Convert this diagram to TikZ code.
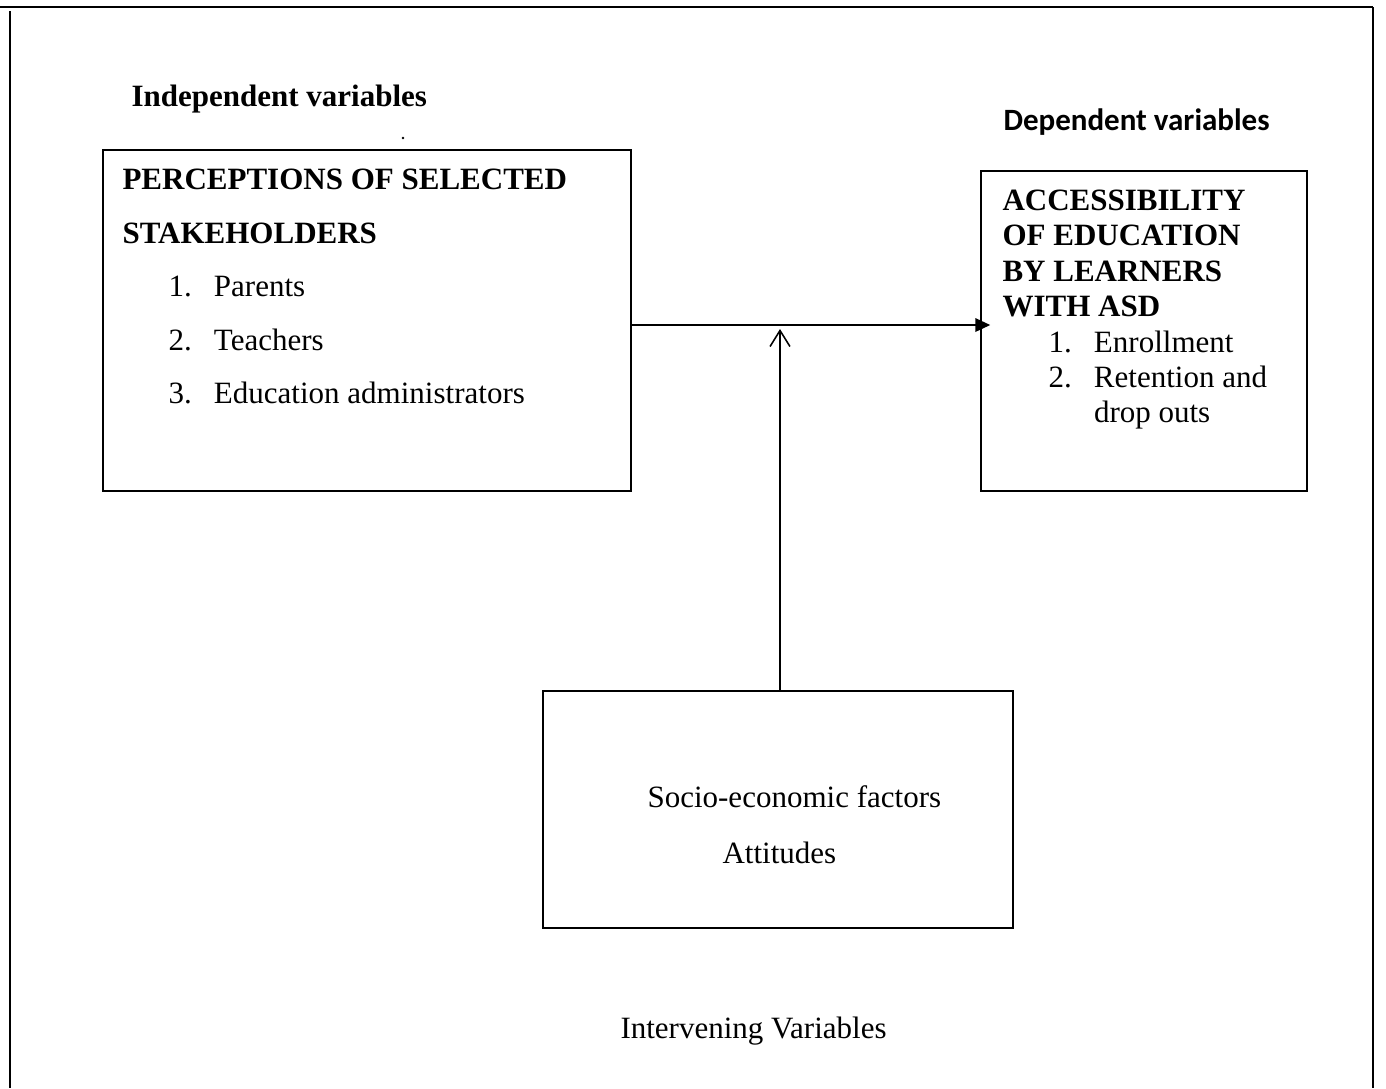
\documentclass[tikz,border=0pt]{standalone}
\usepackage{fontspec}
\setmainfont{Liberation Serif}
\newfontfamily\calibri{Carlito}
\usetikzlibrary{arrows.meta,fit}
\tikzset{
    box/.style={draw, line width=0.6pt, inner sep=0pt},
    txt/.style={inner sep=0pt, align=left, font=\fontsize{12}{#1}\selectfont},
    txt/.default=14,
    frame/.style={line width=0.8pt}
}
\newcommand{\itm}[2]{\hspace*{17.8pt}\makebox[17.6pt][l]{#1}#2}
\begin{document}
\begin{tikzpicture}[x=0.387pt, y=-0.387pt]
    \useasboundingbox (0,0) rectangle (1386,1088);
    \draw[frame] (0,7) -- (1373,7);
    \draw[frame] (10,11) -- (10,1088);
    \draw[frame] (1373,7) -- (1373,1088);
    \node[txt, anchor=base west] (indeplabel) at (131,106) {\textbf{Independent variables}};
    \node[txt, anchor=base west] (deplabel) at (1003,130) {\calibri\bfseries Dependent variables};
    \node[txt, anchor=base west] (intlabel) at (620,1038) {Intervening Variables};
    \fill (403,138) circle (0.5pt);
    \node[box, fit={(103,150) (631,491)}] (indep) {};
    \node[box, fit={(981,171) (1307,491)}] (dep) {};
    \node[box, fit={(543,691) (1013,928)}] (interv) {};
    \node[txt=20.7, anchor=north west] (indeptext) at (122,168.5) {\textbf{PERCEPTIONS OF SELECTED}\\
        \textbf{STAKEHOLDERS}\\
        \itm{1.}{Parents}\\
        \itm{2.}{Teachers}\\
        \itm{3.}{Education administrators}};
    \node[txt=13.7, anchor=north west] (deptext) at (1002,189.5) {\textbf{ACCESSIBILITY}\\
        \textbf{OF EDUCATION}\\
        \textbf{BY LEARNERS}\\
        \textbf{WITH ASD}\\
        \itm{1.}{Enrollment}\\
        \itm{2.}{Retention and}\\
        \hspace*{35.4pt}drop outs};
    \node[txt, anchor=base west] (socio) at (647,807) {Socio-economic factors};
    \node[txt, anchor=base west] (attit) at (722,863) {Attitudes};
    \coordinate (join) at (780,325);
    \coordinate (tip) at (780,329);
    \draw[line width=0.8pt, -{Triangle[length=5.8pt,width=5.2pt]}, shorten >=-3.9pt] (indep.east |- join) -- (dep.west |- join);
    \draw[line width=0.6pt, -{Straight Barb[length=6.2pt,width=7.7pt]}] (interv.north -| join) -- (tip);
\end{tikzpicture}
\end{document}
